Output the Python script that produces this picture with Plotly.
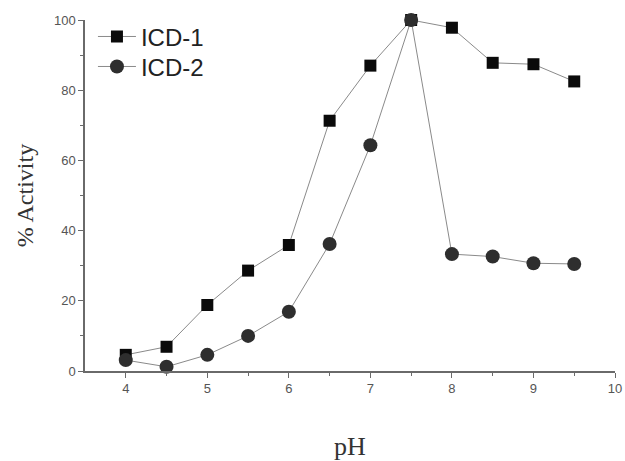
import plotly.graph_objects as go

ph = [4, 4.5, 5, 5.5, 6, 6.5, 7, 7.5, 8, 8.5, 9, 9.5]
icd1 = [4.6, 6.9, 18.8, 28.6, 35.9, 71.3, 87.0, 100, 97.8, 87.8, 87.4, 82.5]
icd2 = [3.1, 1.2, 4.6, 10.0, 16.9, 36.2, 64.3, 100, 33.3, 32.6, 30.7, 30.5]

x_ticks = [4, 5, 6, 7, 8, 9, 10]
y_ticks = [0, 20, 40, 60, 80, 100]

fig = go.Figure()
fig.add_trace(go.Scatter(
    x=ph, y=icd1, mode="lines+markers", name="ICD-1", legend="legend",
    line=dict(color="#8a8a8a", width=1),
    marker=dict(symbol="square", size=12, color="#0a0a0a"),
    cliponaxis=False,
))
fig.add_trace(go.Scatter(
    x=ph, y=icd2, mode="lines+markers", name="ICD-2", legend="legend2",
    line=dict(color="#8a8a8a", width=1),
    marker=dict(symbol="circle", size=14, color="#2e2e2e"),
    cliponaxis=False,
))

axis_common = dict(
    showgrid=False, zeroline=False, showline=True, linecolor="#6a6a6a", linewidth=1.5,
    ticks="outside", ticklen=5, tickcolor="#6a6a6a", automargin=False,
    ticklabeloverflow="allow",
    tickfont=dict(family="Liberation Sans, Arial", size=13, color="#555555"),
)

legend_common = dict(
    xanchor="left", yanchor="top",
    font=dict(family="Liberation Sans, Arial", size=24, color="#222222"),
    bgcolor="rgba(0,0,0,0)", itemwidth=38,
)

fig.update_layout(
    width=625, height=461,
    margin=dict(l=85, r=10, t=20, b=90),
    paper_bgcolor="white", plot_bgcolor="white",
    showlegend=True,
    legend=dict(x=0.015, y=1.016, **legend_common),
    legend2=dict(x=0.015, y=1.016 - 30 / 351, **legend_common),
    xaxis=dict(
        range=[3.5, 10], tickvals=x_ticks, ticktext=[str(v) for v in x_ticks],
        minor=dict(tickvals=[4.5, 5.5, 6.5, 7.5, 8.5, 9.5], ticks="outside", ticklen=3, tickcolor="#6a6a6a"),
        title=dict(text="pH", font=dict(family="Liberation Serif, Times New Roman", size=26, color="#333333"), standoff=41),
        **axis_common,
    ),
    yaxis=dict(
        range=[0, 100], tickvals=y_ticks, ticktext=[str(v) for v in y_ticks],
        minor=dict(tickvals=[10, 30, 50, 70, 90], ticks="outside", ticklen=3, tickcolor="#6a6a6a"),
        title=dict(text="% Activity", font=dict(family="Liberation Serif, Times New Roman", size=24, color="#333333"), standoff=14),
        **axis_common,
    ),
)

fig.write_html("out.html", config={"displayModeBar": False},
               post_script="document.body.style.margin='0px';document.body.style.padding='0px';")
